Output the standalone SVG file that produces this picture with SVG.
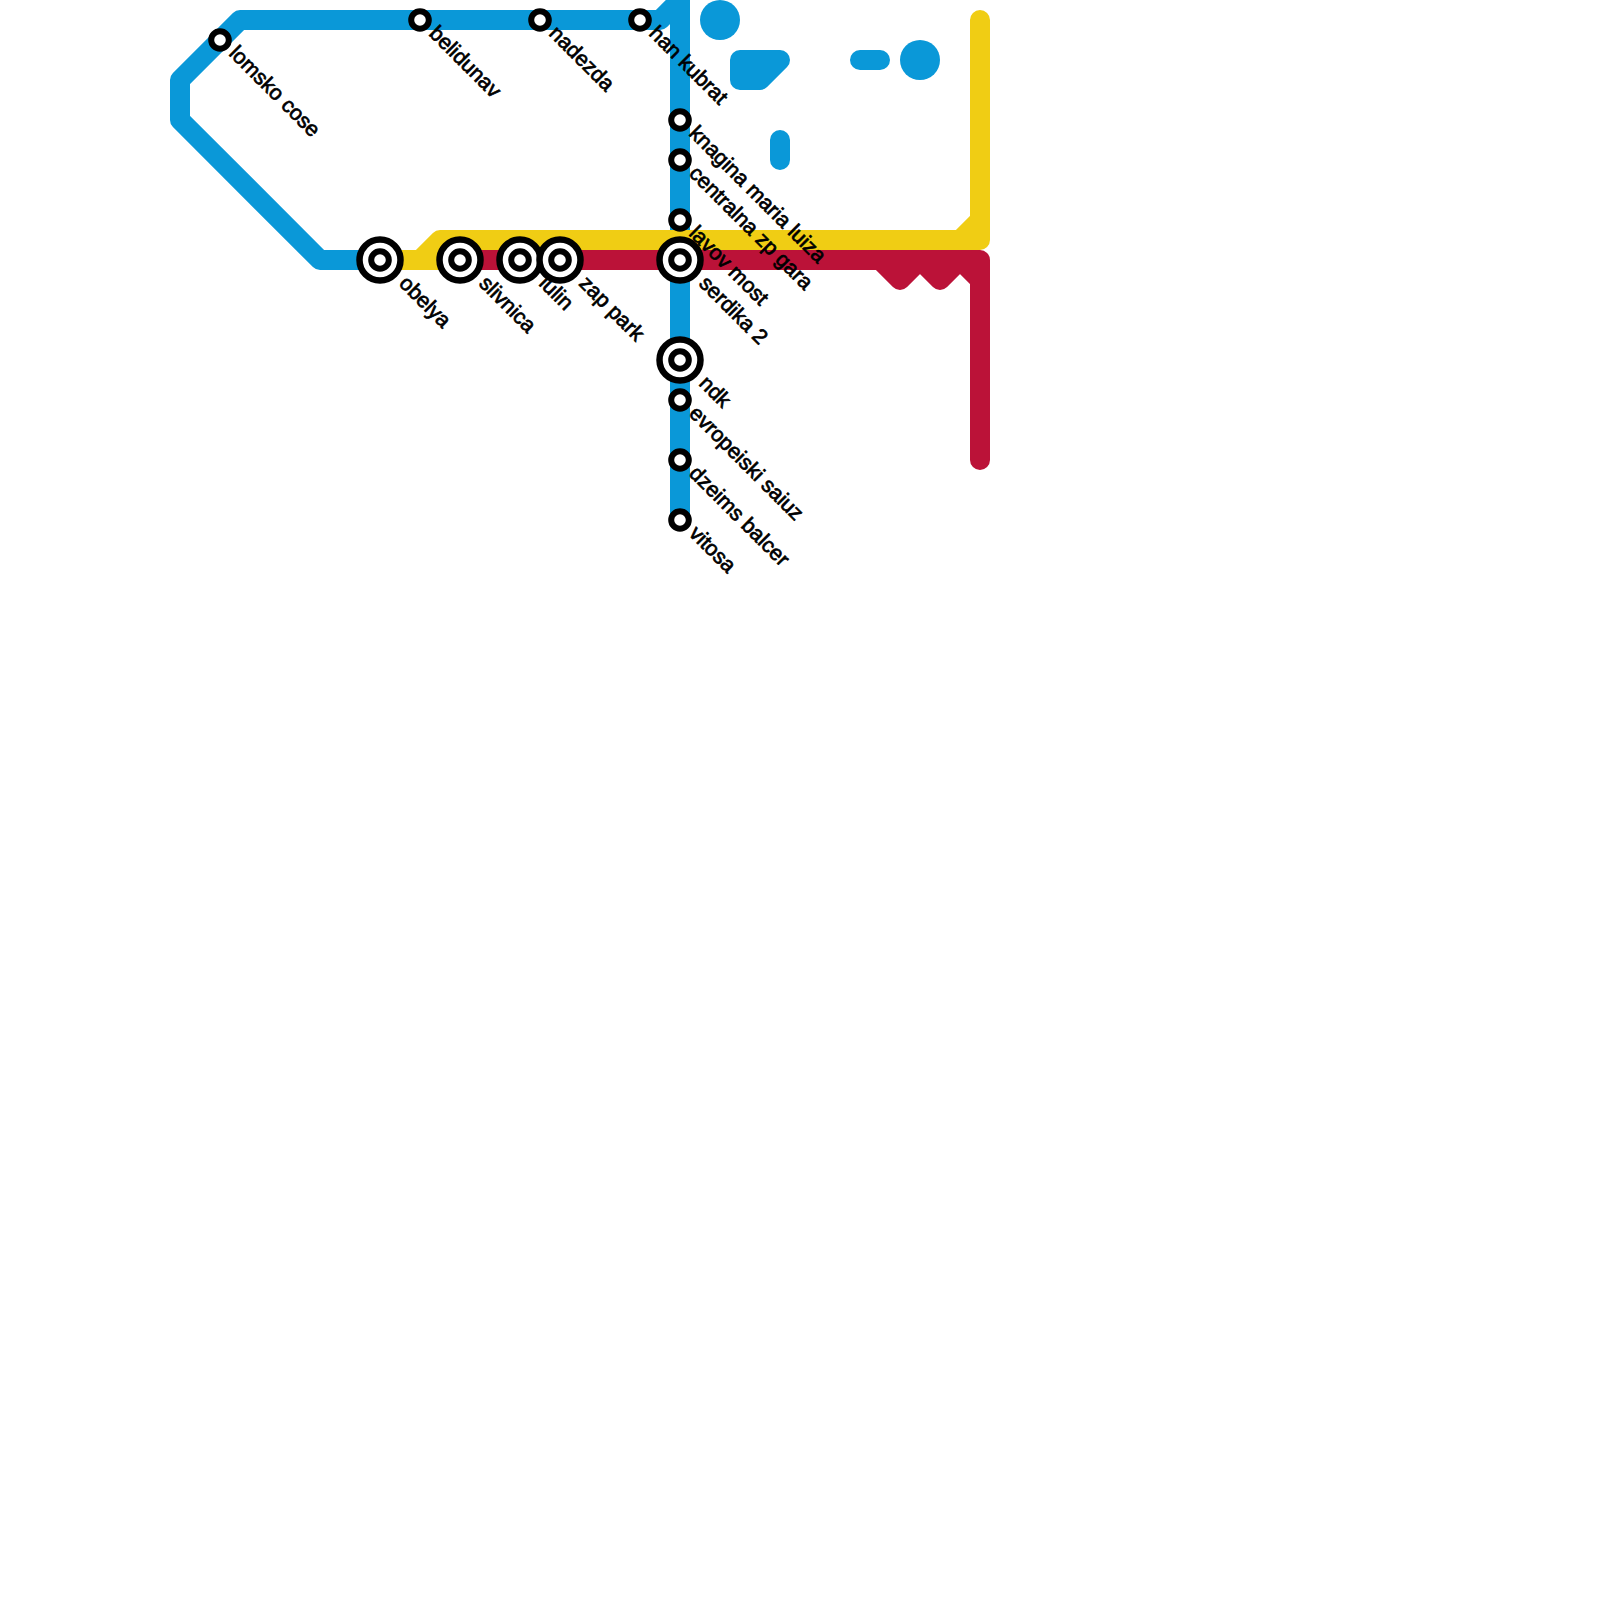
<svg xmlns="http://www.w3.org/2000/svg" width="1600" height="1600" viewBox="0 0 1600 1600">
<style>
.l{fill:none;stroke-width:20;stroke-linecap:round;stroke-linejoin:round}
.b{stroke:#0a98d8}.y{stroke:#f0cd14}.r{stroke:#bb1238}
.o{fill:#fff;stroke:#000;stroke-width:6}
.w{fill:#fff;stroke:#000;stroke-width:6.500}
text{font-family:"Liberation Sans",Arial,sans-serif;font-size:21.3px;font-weight:400;fill:#000;stroke:#000;stroke-width:.7}
</style>
<rect width="1600" height="1600" fill="#fff"/>
<g id="connectors">
<path class="l b" d="M380 260H320L180 120V80L240 20H660L680 0M680 0V520"/>
<path class="l b" d="M740 60H780L760 80H740Z"/>
<path class="l b" d="M860 60H880M780 140V160"/>
<circle cx="720" cy="20" r="20" fill="#0a98d8"/>
<circle cx="920" cy="60" r="20" fill="#0a98d8"/>
<path class="l y" d="M980 20V240H440L420 260H380M980 220L960 240M420 260H460"/>
<path class="l r" d="M460 260H980V460M880 260L900 280L920 260L940 280L960 260L980 280"/>
</g>
<g id="st-lomsko-cose"><circle class="o" cx="220" cy="40" r="8.800"/><text transform="translate(228 54.500) rotate(45)">lomsko cose</text></g>
<g id="st-belidunav"><circle class="o" cx="420" cy="20" r="8.800"/><text transform="translate(428 34.500) rotate(45)">belidunav</text></g>
<g id="st-nadezda"><circle class="o" cx="540" cy="20" r="8.800"/><text transform="translate(548 34.500) rotate(45)">nadezda</text></g>
<g id="st-han-kubrat"><circle class="o" cx="640" cy="20" r="8.800"/><text transform="translate(648 34.500) rotate(45)">han kubrat</text></g>
<g id="st-knagina-maria-luiza"><circle class="o" cx="680" cy="120" r="8.800"/><text transform="translate(688 134.500) rotate(45)">knagina maria luiza</text></g>
<g id="st-centralna-zp-gara"><circle class="o" cx="680" cy="160" r="8.800"/><text transform="translate(688 174.500) rotate(45)">centralna zp gara</text></g>
<g id="st-lavov-most"><circle class="o" cx="680" cy="220" r="8.800"/><text transform="translate(688 234.500) rotate(45)">lavov most</text></g>
<g id="st-serdika-2"><circle class="w" cx="680" cy="260" r="20.500"/><circle class="o" cx="680" cy="260" r="8.800"/><text transform="translate(698 284.500) rotate(45)">serdika 2</text></g>
<g id="st-ndk"><circle class="w" cx="680" cy="360" r="20.500"/><circle class="o" cx="680" cy="360" r="8.800"/><text transform="translate(698 384.500) rotate(45)">ndk</text></g>
<g id="st-evropeiski-saiuz"><circle class="o" cx="680" cy="400" r="8.800"/><text transform="translate(688 414.500) rotate(45)">evropeiski saiuz</text></g>
<g id="st-dzeims-balcer"><circle class="o" cx="680" cy="460" r="8.800"/><text transform="translate(688 474.500) rotate(45)">dzeims balcer</text></g>
<g id="st-vitosa"><circle class="o" cx="680" cy="520" r="8.800"/><text transform="translate(688 534.500) rotate(45)">vitosa</text></g>
<g id="st-obelya"><circle class="w" cx="380" cy="260" r="20.500"/><circle class="o" cx="380" cy="260" r="8.800"/><text transform="translate(398 284.500) rotate(45)">obelya</text></g>
<g id="st-slivnica"><circle class="w" cx="460" cy="260" r="20.500"/><circle class="o" cx="460" cy="260" r="8.800"/><text transform="translate(478 284.500) rotate(45)">slivnica</text></g>
<g id="st-iulin"><circle class="w" cx="520" cy="260" r="20.500"/><circle class="o" cx="520" cy="260" r="8.800"/><text transform="translate(538 284.500) rotate(45)">iulin</text></g>
<g id="st-zap-park"><circle class="w" cx="560" cy="260" r="20.500"/><circle class="o" cx="560" cy="260" r="8.800"/><text transform="translate(578 284.500) rotate(45)">zap park</text></g>
</svg>
